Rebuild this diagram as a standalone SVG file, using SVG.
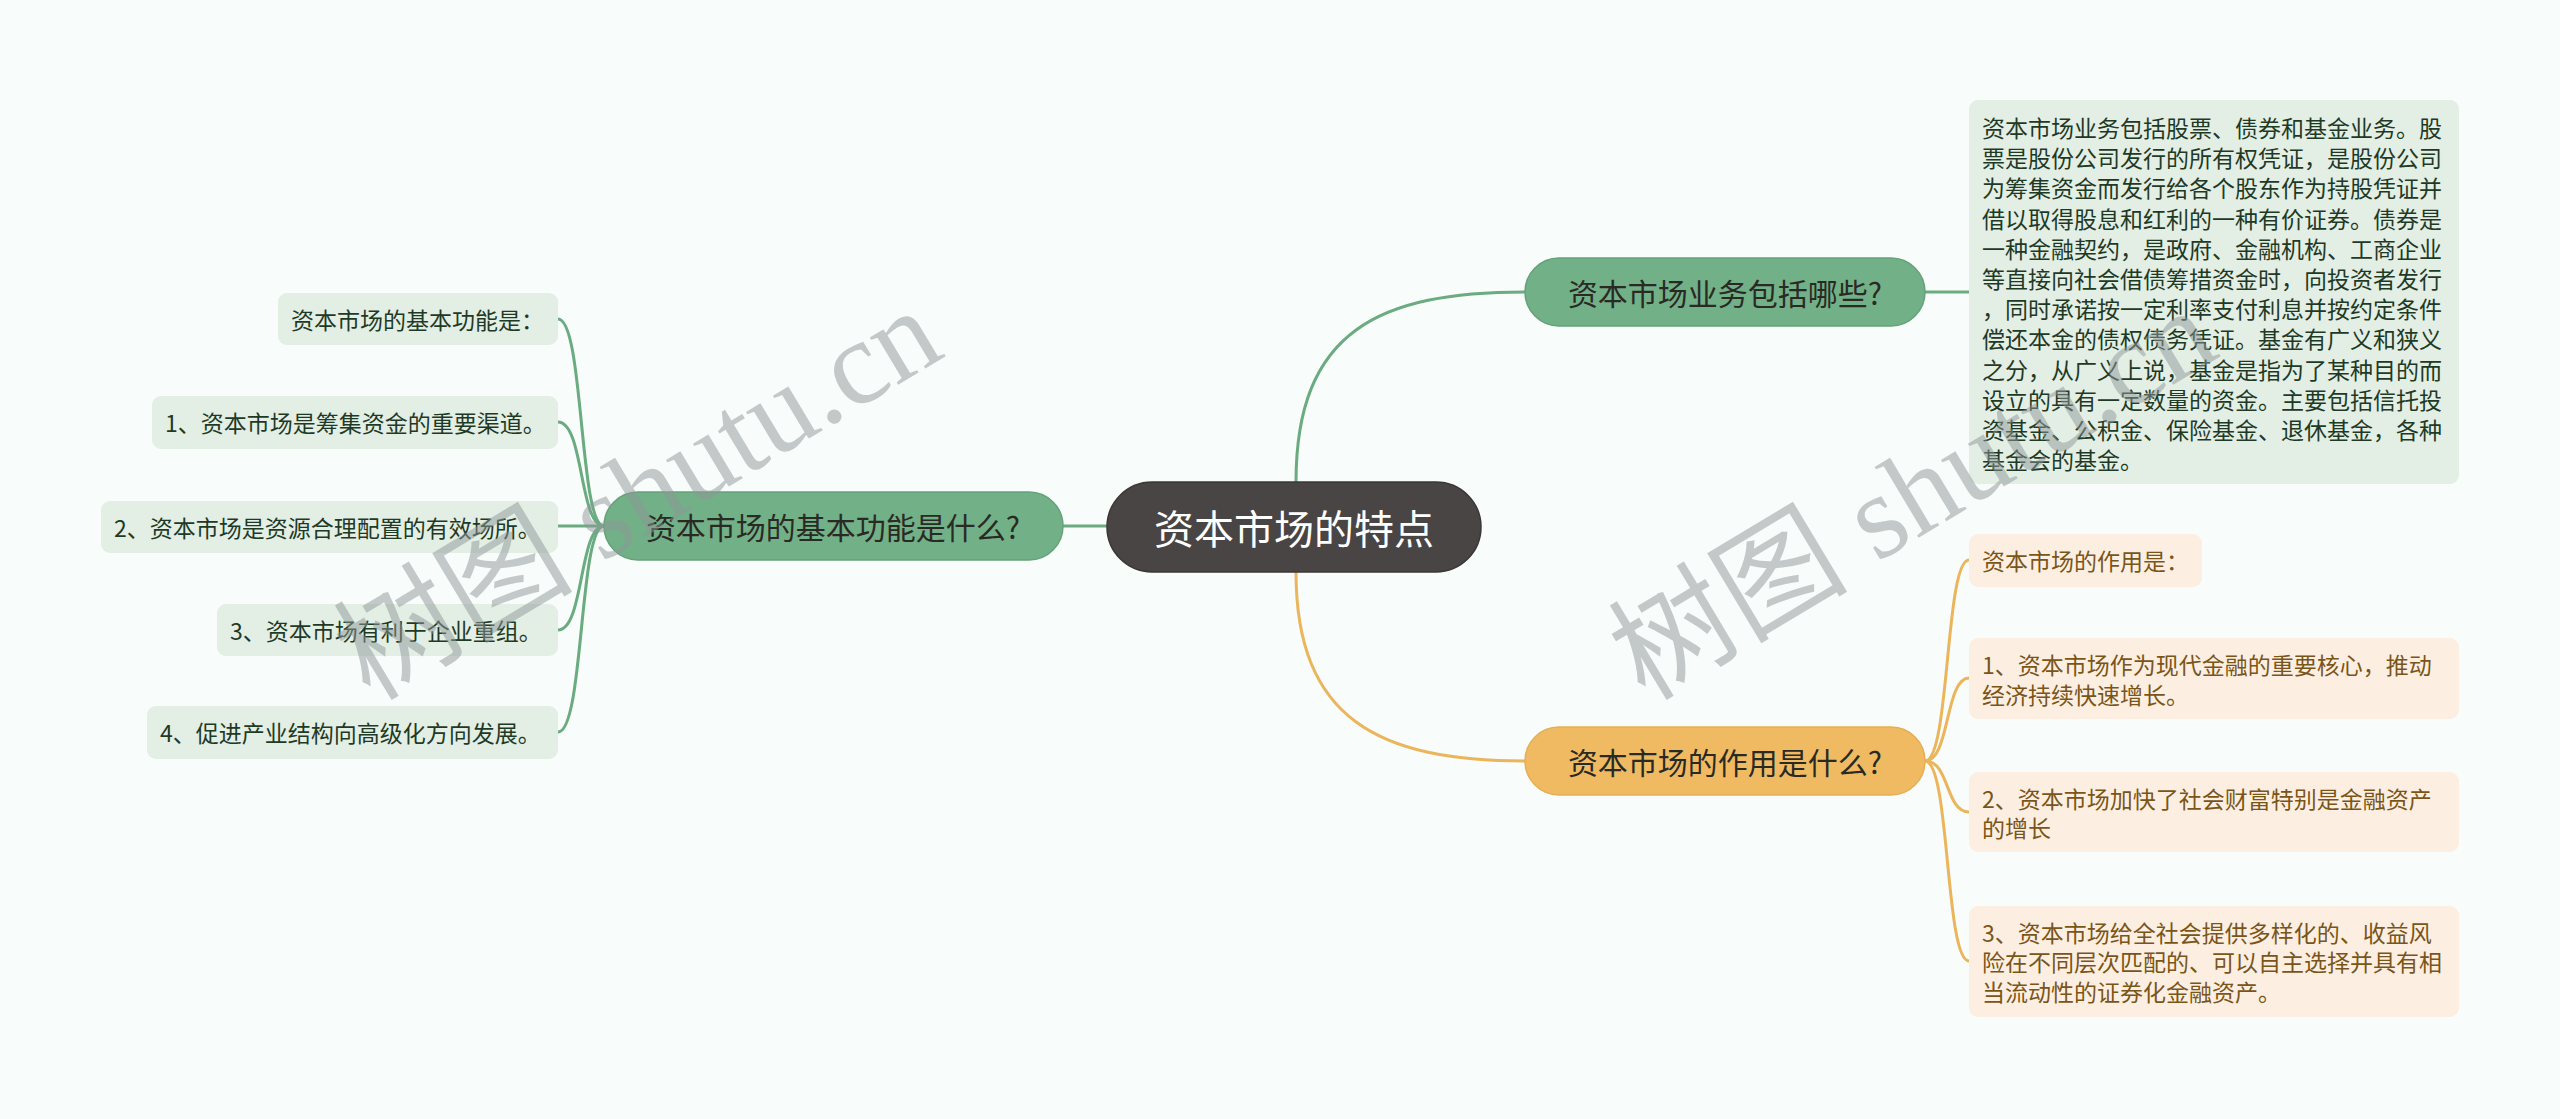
<svg xmlns="http://www.w3.org/2000/svg" width="2560" height="1119" viewBox="0 0 2560 1119">
<defs>
<style>
.t{font-family:"Noto Sans CJK SC","Noto Sans",sans-serif;}
.leafg{fill:#e3eee5;}
.leafy{fill:#fcefe1;}
.tg{font-size:23px;fill:#1e3a25;}
.ty{font-size:23px;fill:#7a5519;}
.main{font-size:30px;fill:#2a2a24;}
.lg{fill:none;stroke:#6aab80;stroke-width:3;}
.ly{fill:none;stroke:#ebb55c;stroke-width:3;}
.wm{font-family:"Liberation Serif","Noto Sans CJK SC",serif;font-size:120px;fill:#8f9898;opacity:0.5;}
</style>
</defs>
<rect x="0" y="0" width="2560" height="1119" fill="#f8fcfb"/>

<g id="connectors">
<path class="lg" d="M1063 526 H1107"/>
<path class="lg" d="M1296 482 C1296 330 1380 292 1525 292"/>
<path class="ly" d="M1296 572 C1296 720 1380 761 1525 761"/>
<path class="lg" d="M1925 292 H1969"/>
<path class="ly" d="M1925 761 C1950 761 1945 560 1969 560"/>
<path class="ly" d="M1925 761 C1950 761 1945 678 1969 678"/>
<path class="ly" d="M1925 761 C1950 761 1945 812 1969 812"/>
<path class="ly" d="M1925 761 C1950 761 1945 961 1969 961"/>
<path class="lg" d="M604 526 C579 526 584 319 558 319"/>
<path class="lg" d="M604 526 C579 526 584 422 558 422"/>
<path class="lg" d="M604 526 H558"/>
<path class="lg" d="M604 526 C579 526 584 630 558 630"/>
<path class="lg" d="M604 526 C579 526 584 732 558 732"/>
</g>

<g id="root">
<rect x="1107" y="482" width="374" height="90" rx="45" fill="#4a4545" stroke="#3c3737" stroke-width="1.5"/>
<text class="t" x="1294" y="527" font-size="40" fill="#ffffff" text-anchor="middle" dominant-baseline="central">资本市场的特点</text>
</g>

<g id="n-left">
<rect x="604" y="492" width="459" height="68" rx="34" fill="#72b087" stroke="#64a27a" stroke-width="1.5"/>
<text class="t main" x="833" y="526" text-anchor="middle" dominant-baseline="central">资本市场的基本功能是什么?</text>
</g>

<g id="n-top">
<rect x="1525" y="258" width="400" height="68" rx="34" fill="#72b087" stroke="#64a27a" stroke-width="1.5"/>
<text class="t main" x="1725" y="292" text-anchor="middle" dominant-baseline="central">资本市场业务包括哪些?</text>
</g>

<g id="n-bottom">
<rect x="1525" y="727" width="400" height="68" rx="34" fill="#f0ba62" stroke="#e6ae55" stroke-width="1.5"/>
<text class="t main" x="1725" y="761" text-anchor="middle" dominant-baseline="central">资本市场的作用是什么?</text>
</g>

<g id="top-detail">
<rect class="leafg" x="1969" y="100" width="490" height="384" rx="9"/>
<text class="t tg" dominant-baseline="central">
<tspan x="1982" y="127">资本市场业务包括股票、债券和基金业务。股</tspan>
<tspan x="1982" y="157.2">票是股份公司发行的所有权凭证，是股份公司</tspan>
<tspan x="1982" y="187.4">为筹集资金而发行给各个股东作为持股凭证并</tspan>
<tspan x="1982" y="217.6">借以取得股息和红利的一种有价证券。债券是</tspan>
<tspan x="1982" y="247.8">一种金融契约，是政府、金融机构、工商企业</tspan>
<tspan x="1982" y="278">等直接向社会借债筹措资金时，向投资者发行</tspan>
<tspan x="1982" y="308.2">，同时承诺按一定利率支付利息并按约定条件</tspan>
<tspan x="1982" y="338.4">偿还本金的债权债务凭证。基金有广义和狭义</tspan>
<tspan x="1982" y="368.6">之分，从广义上说，基金是指为了某种目的而</tspan>
<tspan x="1982" y="398.8">设立的具有一定数量的资金。主要包括信托投</tspan>
<tspan x="1982" y="429">资基金、公积金、保险基金、退休基金，各种</tspan>
<tspan x="1982" y="459.2">基金会的基金。</tspan>
</text>
</g>

<g id="y0">
<rect class="leafy" x="1969" y="534" width="233" height="53" rx="9"/>
<text class="t ty" x="1982" y="560" dominant-baseline="central">资本市场的作用是：</text>
</g>
<g id="y1">
<rect class="leafy" x="1969" y="638" width="490" height="81" rx="9"/>
<text class="t ty" dominant-baseline="central"><tspan x="1982" y="664">1、资本市场作为现代金融的重要核心，推动</tspan><tspan x="1982" y="694">经济持续快速增长。</tspan></text>
</g>
<g id="y2">
<rect class="leafy" x="1969" y="772" width="490" height="80" rx="9"/>
<text class="t ty" dominant-baseline="central"><tspan x="1982" y="798">2、资本市场加快了社会财富特别是金融资产</tspan><tspan x="1982" y="827">的增长</tspan></text>
</g>
<g id="y3">
<rect class="leafy" x="1969" y="906" width="490" height="111" rx="9"/>
<text class="t ty" dominant-baseline="central"><tspan x="1982" y="932">3、资本市场给全社会提供多样化的、收益风</tspan><tspan x="1982" y="961">险在不同层次匹配的、可以自主选择并具有相</tspan><tspan x="1982" y="991">当流动性的证券化金融资产。</tspan></text>
</g>

<g id="g0">
<rect class="leafg" x="278" y="293" width="280" height="52" rx="9"/>
<text class="t tg" x="291" y="319" dominant-baseline="central">资本市场的基本功能是：</text>
</g>
<g id="g1">
<rect class="leafg" x="152" y="396" width="406" height="53" rx="9"/>
<text class="t tg" x="165" y="422" dominant-baseline="central">1、资本市场是筹集资金的重要渠道。</text>
</g>
<g id="g2">
<rect class="leafg" x="101" y="501" width="457" height="52" rx="9"/>
<text class="t tg" x="114" y="527" dominant-baseline="central">2、资本市场是资源合理配置的有效场所。</text>
</g>
<g id="g3">
<rect class="leafg" x="217" y="604" width="341" height="52" rx="9"/>
<text class="t tg" x="230" y="630" dominant-baseline="central">3、资本市场有利于企业重组。</text>
</g>
<g id="g4">
<rect class="leafg" x="147" y="706" width="411" height="53" rx="9"/>
<text class="t tg" x="160" y="732" dominant-baseline="central">4、促进产业结构向高级化方向发展。</text>
</g>

<g id="watermark">
<text class="wm" transform="translate(370 702) rotate(-31)">树图 shutu.cn</text>
<text class="wm" transform="translate(1645 702) rotate(-31)">树图 shutu.cn</text>
</g>
</svg>
